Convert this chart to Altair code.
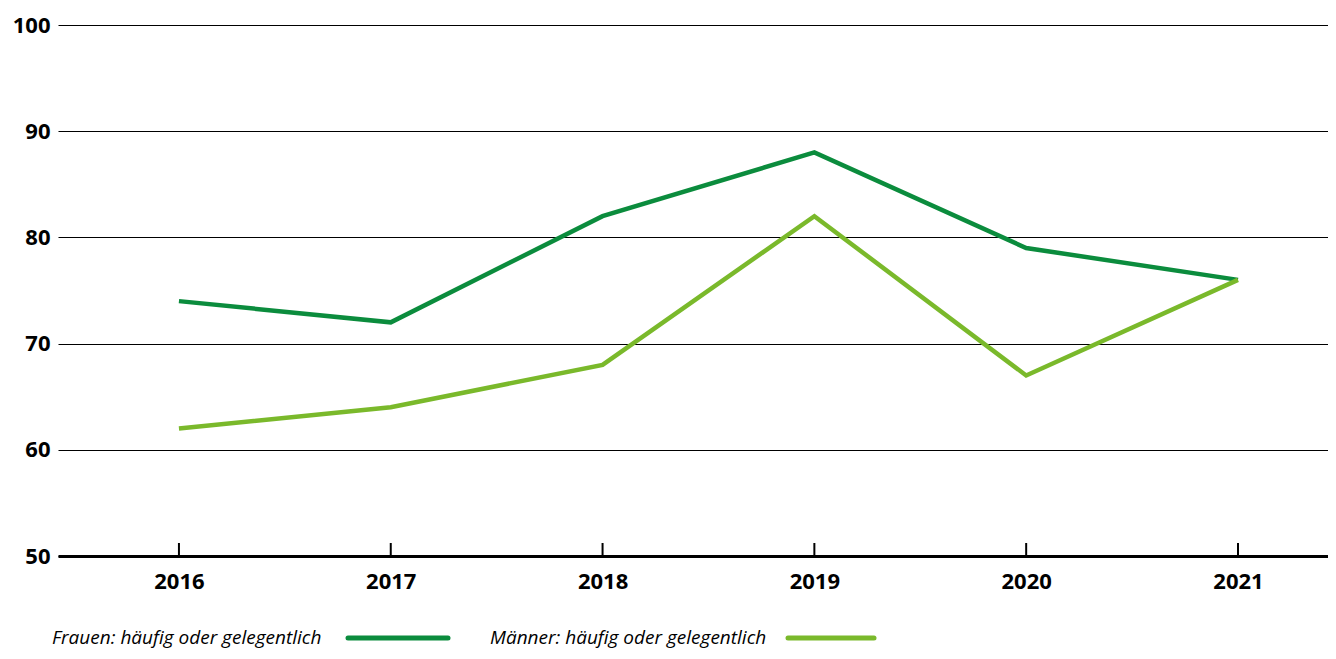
import altair as alt
import pandas as pd

years = [2016, 2017, 2018, 2019, 2020, 2021]
frauen = [74, 72, 82, 88, 79, 76]
maenner = [62, 64, 68, 82, 67, 76]
series_names = ["Frauen: häufig oder gelegentlich", "Männer: häufig oder gelegentlich"]
colors = ["#0B8C3D", "#7AB92B"]
y_ticks = [50, 60, 70, 80, 90, 100]

rows = []
for name, vals in zip(series_names, [frauen, maenner]):
    for yr, v in zip(years, vals):
        rows.append({"Jahr": yr, "Wert": v, "Serie": name})
df = pd.DataFrame(rows)
years_df = pd.DataFrame({"Jahr": years})

W, H = 1270, 531
FONT = "Open Sans"

xscale = alt.Scale(domain=[2015.429, 2021.425], nice=False, zero=False)
yscale = alt.Scale(domain=[50, 100], nice=False, zero=False)

base = alt.Chart(df)

lines = base.mark_line(strokeWidth=4.5, strokeJoin="miter").encode(
    x=alt.X("Jahr:Q", scale=xscale,
            axis=alt.Axis(values=years, format="d", title=None, grid=False, ticks=False,
                          domain=True, domainColor="#000", domainWidth=3,
                          labelFont=FONT, labelFontSize=22, labelFontWeight="bold",
                          labelColor="#000", labelPadding=15)),
    y=alt.Y("Wert:Q", scale=yscale,
            axis=alt.Axis(values=y_ticks, title=None, grid=True, gridColor="#000",
                          gridWidth=1.2, gridOpacity=1, ticks=False, domain=False,
                          labelFont=FONT, labelFontSize=22, labelFontWeight="bold",
                          labelColor="#000", labelPadding=8)),
    color=alt.Color("Serie:N", scale=alt.Scale(domain=series_names, range=colors), legend=None),
    order=alt.Order("Serie:N"),
)

ticks = alt.Chart(years_df).mark_rule(color="#000", strokeWidth=2).encode(
    x=alt.X("Jahr:Q", scale=xscale),
    y=alt.value(H),
    y2=alt.value(H - 13),
)

leg_df = pd.DataFrame({
    "Serie": series_names,
    "tx": [-6, 432],
    "lx1": [290, 730],
    "lx2": [390, 816],
})
leg_y = H + 82

leg_text = alt.Chart(leg_df).mark_text(
    align="left", baseline="middle", font=FONT, fontSize=19, fontStyle="italic", color="#000"
).encode(
    x=alt.X("tx:Q", scale=None),
    y=alt.value(leg_y),
    text="Serie:N",
)

leg_lines = alt.Chart(leg_df).mark_rule(strokeWidth=5, strokeCap="round").encode(
    x=alt.X("lx1:Q", scale=None),
    x2="lx2:Q",
    y=alt.value(leg_y),
    color=alt.Color("Serie:N", scale=alt.Scale(domain=series_names, range=colors), legend=None),
)

chart = alt.layer(lines, ticks, leg_text, leg_lines).properties(
    width=W, height=H,
    autosize=alt.AutoSizeParams(type="none"),
    padding={"left": 50, "top": 17, "right": 0, "bottom": 95},
).configure_view(stroke=None)

chart.save("out.html", embed_options={"renderer": "svg", "actions": False})
